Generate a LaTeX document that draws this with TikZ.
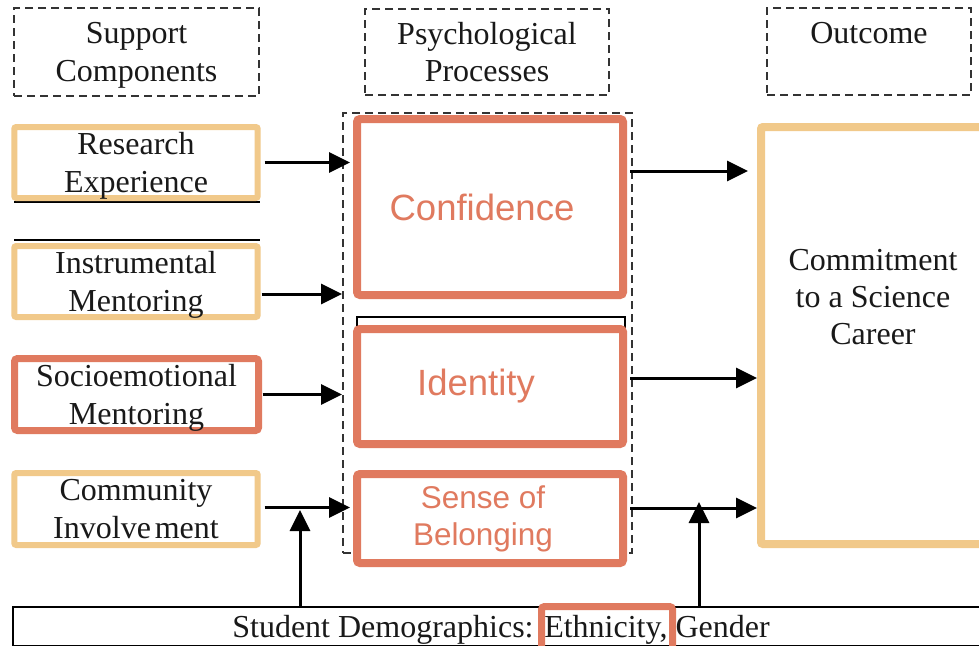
\documentclass[tikz,border=0pt]{standalone}
\usepackage{fontspec}
\setmainfont{Liberation Serif}
\newfontfamily\arialf{Liberation Sans}
\usetikzlibrary{arrows.meta,calc}
\definecolor{tanc}{RGB}{241,201,138}
\definecolor{salmon}{RGB}{224,122,95}
\definecolor{ink}{RGB}{25,25,25}
\begin{document}
\begin{tikzpicture}[x=0.75pt,y=-0.75pt,
  every node/.style={outer sep=0pt, inner sep=0pt, align=center, text=ink, font=\fontsize{24}{28}\selectfont},
  dn/.style={text depth=0pt},
  hdr/.style={draw=black!80, dash pattern=on 6pt off 3.75pt, line width=1.5pt},
  tanbox/.style={draw=tanc, line width=4.5pt, rounded corners=1.5pt, fill=white},
  salbox/.style={draw=salmon, line width=6pt, rounded corners=2.25pt, fill=white},
  saltext/.style={text=salmon, font=\arialf\fontsize{27.4}{31}\selectfont},
  arr/.style={line width=2.25pt, -{Triangle[length=15.75pt,width=15pt]}},
  thinl/.style={line width=1.1pt}
]
\fill[white] (0,0) rectangle (979,646);
\useasboundingbox (0,0) rectangle (979,646);

% headers
\node[hdr, dn, minimum width=183.75pt, minimum height=66pt] (hsup) at (136.5,52) {Support\\Components};
\node[hdr, dn, minimum width=183pt, minimum height=64.5pt] (hpsy) at (487,52) {Psychological\\Processes};
\node[hdr, minimum width=153pt, minimum height=65.25pt] (hout) at (869,51.5) {Outcome\\\mbox{}};

% leftover thin lines
\draw[thinl] (14,202) -- (260,202);
\draw[thinl] (14,240) -- (260,240);

% support components
\node[tanbox, dn, minimum width=182.6pt, minimum height=53.25pt] (re) at (136,162.5) {Research\\Experience};
\node[tanbox, dn, minimum width=182.6pt, minimum height=53.25pt] (im) at (136,281.5) {Instrumental\\Mentoring};
\node[salbox, dn, line width=5.25pt, minimum width=183pt, minimum height=54pt] (so) at (136.5,394.5) {Socioemotional\\Mentoring};
\node[tanbox, minimum width=182.6pt, minimum height=54pt] (co) at (136,509) {Community\\Involve\hspace{0.12em}ment};

% psychological processes
\node[hdr, minimum width=216.75pt, minimum height=330pt] (mid) at (487.5,333) {};
\node[salbox, saltext, minimum width=199.5pt, minimum height=132pt] (conf) at (490,207) {Confidence\kern12pt};
\draw[thinl] (357,317) rectangle (625,440);
\node[salbox, saltext, minimum width=199.5pt, minimum height=86.25pt] (ident) at (490,386.5) {Identity\kern21pt};
\node[salbox, saltext, font=\arialf\fontsize{23.6}{27.75}\selectfont, minimum width=199.5pt, minimum height=66.75pt] (bel) at (490,518.5) {Sense of\kern10.5pt\\Belonging\kern10.5pt};

% outcome
\node[tanbox, line width=6pt, minimum width=171.75pt, minimum height=312.75pt] (commit) at (875.5,335.5) {};
\node (committxt) at (873,297) {Commitment\\to a Science\\Career};

% demographics
\node[draw, dn, thinl, minimum width=732pt, minimum height=29.25pt] (demog) at (501,626.5) {Student Demographics: Ethnicity, Gender};
\draw[salmon, line width=5.25pt, rounded corners=2.25pt] (541.5,606.5) rectangle (672.5,656);

% arrows left
\draw[arr, shorten <=5.25pt, shorten >=5.25pt] (re.east) -- (re.east -| conf.west);
\draw[arr, shorten <=3pt, shorten >=11.25pt] ([yshift=-9.375pt]im.east) -- ([yshift=-9.375pt]im.east -| conf.west);
\draw[arr, shorten <=3pt, shorten >=11.25pt] (so.east) -- (so.east -| ident.west);
\draw[arr, shorten <=5.25pt, shorten >=5.25pt] ([yshift=1.125pt]co.east) -- ([yshift=1.125pt]co.east -| bel.west);

% arrows right
\draw[arr, shorten <=5.25pt, shorten >=9.75pt] ([yshift=27pt]conf.east) -- ([yshift=27pt]conf.east -| commit.west);
\draw[arr, shorten <=5.25pt, shorten >=3pt] ([yshift=6.375pt]ident.east) -- ([yshift=6.375pt]ident.east -| commit.west);
\draw[arr, shorten <=5.25pt, shorten >=3pt] ([yshift=7.875pt]bel.east) -- ([yshift=7.875pt]bel.east -| commit.west);

% moderator arrows
\coordinate (v1) at (300,510);
\coordinate (v2) at (699,502);
\draw[arr] (v1 |- demog.north) -- (v1);
\draw[arr] (v2 |- demog.north) -- (v2);
\end{tikzpicture}
\end{document}
